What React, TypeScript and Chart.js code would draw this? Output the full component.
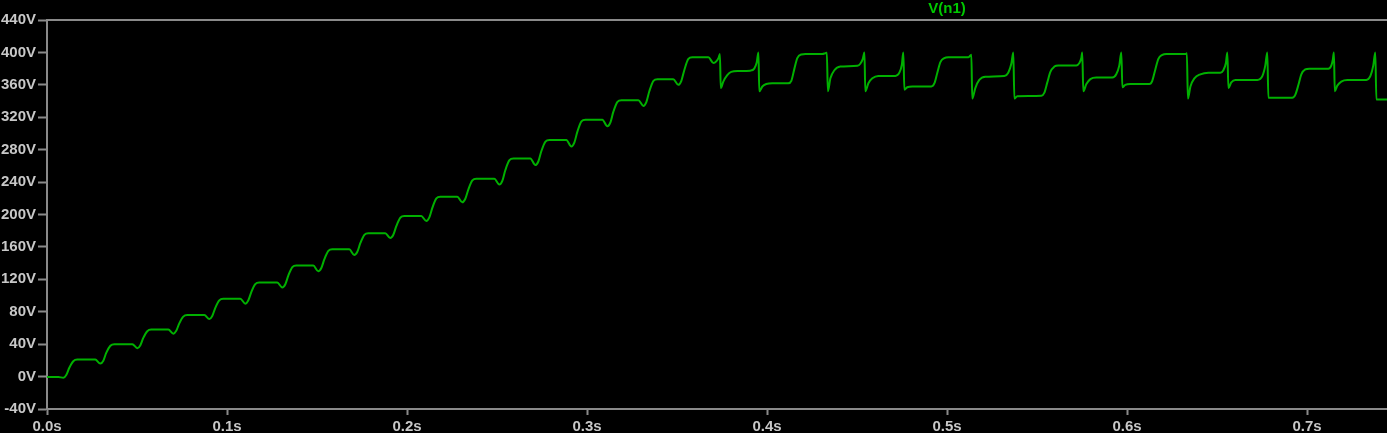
import React, { useEffect, useRef } from "react";
import { Chart, registerables } from "chart.js";

Chart.register(...registerables);

// ---- data ----
const traceName = "V(n1)";
const windowEndSec = 1.0; // LTspice window spans 0..1 s; title is centred on it
const xMin = 0;
const xMax = 0.7444;
const yMin = -40;
const yMax = 440;
const yStep = 40;
const xStep = 0.1;

// charging staircase (seconds, volts)
const rampTime = [
  0, 0.0063, 0.0091, 0.0107, 0.0124, 0.0146, 0.0168,
  0.0268, 0.0296, 0.0313, 0.0329, 0.0352, 0.0374,
  0.0474, 0.0502, 0.0518, 0.0535, 0.0557, 0.0579,
  0.0674, 0.0702, 0.0718, 0.0735, 0.0757, 0.0779,
  0.0874, 0.0902, 0.0918, 0.0935, 0.0957, 0.0979,
  0.1074, 0.1102, 0.1118, 0.1135, 0.1157, 0.1179,
  0.1279, 0.1307, 0.1324, 0.1341, 0.1363, 0.1385,
  0.1479, 0.1507, 0.1524, 0.1541, 0.1563, 0.1585,
  0.1679, 0.1707, 0.1724, 0.1741, 0.1763, 0.1785,
  0.1879, 0.1907, 0.1924, 0.1941, 0.1963, 0.1985,
  0.2079, 0.2107, 0.2124, 0.2141, 0.2163, 0.2185,
  0.2279, 0.2307, 0.2324, 0.2341, 0.2363, 0.2385,
  0.2485, 0.2513, 0.253, 0.2546, 0.2569, 0.2591,
  0.2685, 0.2713, 0.273, 0.2746, 0.2769, 0.2791,
  0.2885, 0.2913, 0.293, 0.2946, 0.2969, 0.2991,
  0.3085, 0.3113, 0.313, 0.3146, 0.3169, 0.3191,
  0.3285, 0.3313, 0.333, 0.3346, 0.3369, 0.3391,
  0.3479, 0.3507, 0.3524, 0.3541, 0.3563, 0.3585,
];
const rampVolt = [
  -0.5, -0.5, -1.5, 1.9, 10.9, 19, 21,
  21, 16, 19.6, 29.2, 38, 40,
  40, 35, 38.5, 47.7, 56, 58,
  58, 53, 56.5, 65.7, 74, 76,
  76, 71, 74.8, 84.8, 94, 96,
  96, 90, 93.9, 104.3, 114, 116,
  116, 110, 114, 124.9, 135, 137,
  137, 130, 134, 144.9, 155, 157,
  157, 150, 154, 164.9, 175, 177,
  177, 171, 175, 185.9, 196, 198,
  198, 192, 196.5, 208.5, 220, 222,
  222, 215, 219.4, 231, 242, 244,
  244, 237, 241.8, 254.6, 267, 269,
  269, 261, 265.7, 278, 290, 292,
  292, 284, 289, 302, 315, 317,
  317, 309, 313.8, 326.6, 339, 341,
  341, 334, 339, 352, 365, 367,
  367, 360, 365, 378.7, 392, 394,
];

// steady-state region with switching spikes (seconds, volts)
const steadyTime = [
  0.3674, 0.3702, 0.3718, 0.3732, 0.3738, 0.3743, 0.3757, 0.3779, 0.3801, 0.384,
  0.3907, 0.3929, 0.3943, 0.3952, 0.3957, 0.3974, 0.3996, 0.4029,
  0.4118, 0.4135, 0.4152, 0.4168, 0.419, 0.4213,
  0.4307, 0.4324, 0.4332, 0.4338, 0.4352, 0.4374, 0.4407,
  0.4502, 0.4518, 0.4532, 0.4541, 0.4546, 0.4563, 0.4585, 0.4618,
  0.4713, 0.4735, 0.4749, 0.4757, 0.4763, 0.4779, 0.4807,
  0.4913, 0.493, 0.4946, 0.4963, 0.4985, 0.5007,
  0.5118, 0.5129, 0.5135, 0.514, 0.5157, 0.5179, 0.5213,
  0.5318, 0.534, 0.5357, 0.5368, 0.5374, 0.539,
  0.5524, 0.554, 0.5557, 0.5574, 0.5596, 0.5618,
  0.5718, 0.5735, 0.5746, 0.5751, 0.5757, 0.5774, 0.5796, 0.5829,
  0.5918, 0.594, 0.5957, 0.5968, 0.5974, 0.599, 0.6018,
  0.6124, 0.614, 0.6157, 0.6174, 0.6196, 0.6218,
  0.6327, 0.6332, 0.6338, 0.6352, 0.6374, 0.6407, 0.6452,
  0.6518, 0.6535, 0.6549, 0.6557, 0.6563, 0.6579, 0.6602,
  0.6724, 0.6752, 0.6768, 0.6779, 0.6785,
  0.6918, 0.6935, 0.6952, 0.6968, 0.699, 0.7013,
  0.7118, 0.7135, 0.7143, 0.7149, 0.7154, 0.7168, 0.719, 0.7224,
  0.7329, 0.7352, 0.7368, 0.7379, 0.7385, 0.75,
];
const steadyVolt = [
  394, 387, 389, 394, 398, 356, 364, 372, 376, 377,
  377.5, 380, 388, 400, 352, 358, 361, 362,
  362, 365, 380, 393, 397.5, 398,
  398, 399, 399.5, 352, 368, 378, 382.5,
  383.5, 386, 392, 400, 352, 362, 368, 371,
  371, 375, 385, 400, 354, 357, 358,
  358, 362, 375, 388, 393, 394,
  394, 396, 397, 343, 356, 366, 370,
  371, 375, 386, 400, 343, 346,
  346.5, 350, 363, 376, 382.5, 384,
  384, 387, 393, 400, 352, 361, 367, 369,
  369, 373, 384, 400, 357, 360, 361,
  361, 365, 379, 392, 397, 398,
  398, 399, 343, 358, 368, 373, 375,
  375, 378, 387, 400, 356, 363, 366,
  366, 371, 384, 400, 344,
  344, 348, 360, 373, 379, 380,
  380, 384, 391, 400, 352, 359, 364, 366,
  366, 371, 384, 400, 342, 342,
];

// ---- styling ----
const BG = "#000000";
const AXIS_COLOR = "#8a8a8a";
const LABEL_COLOR = "#c8c8c8";
const TRACE_COLOR = "#00b000";
const TITLE_COLOR = "#00c800";
const FONT_FAMILY = "'Liberation Sans', Arial, sans-serif";

const ltspiceFrame = {
  id: "ltspiceFrame",
  afterDraw(chart: any) {
    const { ctx, chartArea, scales } = chart;
    ctx.save();
    ctx.strokeStyle = AXIS_COLOR;
    ctx.lineWidth = 2;
    ctx.beginPath();
    ctx.moveTo(chartArea.left - 1, chartArea.top);
    ctx.lineTo(chartArea.right, chartArea.top);
    ctx.stroke();
    ctx.font = `bold 15px ${FONT_FAMILY}`;
    ctx.fillStyle = TITLE_COLOR;
    ctx.textAlign = "center";
    ctx.textBaseline = "middle";
    ctx.fillText(traceName, scales.x.getPixelForValue(windowEndSec / 2), 9);
    ctx.restore();
  },
};

export default function App() {
  const canvasRef = useRef<HTMLCanvasElement | null>(null);

  useEffect(() => {
    if (!canvasRef.current) return;
    const points = [
      ...rampTime.map((t, i) => ({ x: t, y: rampVolt[i] })),
      ...steadyTime.map((t, i) => ({ x: t, y: steadyVolt[i] })),
    ];
    const chart = new Chart(canvasRef.current, {
      type: "line",
      data: {
        datasets: [
          {
            label: traceName,
            data: points,
            borderColor: TRACE_COLOR,
            borderWidth: 2,
            pointRadius: 0,
            fill: false,
            cubicInterpolationMode: "monotone",
          },
        ],
      },
      options: {
        animation: false,
        responsive: true,
        maintainAspectRatio: false,
        parsing: false as any,
        layout: { padding: { top: 20, left: 0, right: 0, bottom: 0 } },
        plugins: {
          legend: { display: false },
          tooltip: { enabled: false },
          title: { display: false },
        },
        scales: {
          x: {
            type: "linear",
            min: xMin,
            max: xMax,
            afterFit: (s: any) => {
              s.height = 24;
            },
            grid: {
              display: true,
              drawOnChartArea: false,
              drawTicks: true,
              tickLength: 6,
              tickColor: AXIS_COLOR,
              tickWidth: 2,
            },
            border: { display: true, color: AXIS_COLOR, width: 2 },
            ticks: {
              stepSize: xStep,
              includeBounds: false,
              autoSkip: false,
              maxRotation: 0,
              padding: 3,
              color: LABEL_COLOR,
              font: { family: FONT_FAMILY, size: 15, weight: "bold" },
              callback: (v: any) => Number(v).toFixed(1) + "s",
            },
          },
          y: {
            type: "linear",
            min: yMin,
            max: yMax,
            afterFit: (s: any) => {
              s.width = 47;
            },
            grid: {
              display: true,
              drawOnChartArea: false,
              drawTicks: true,
              tickLength: 9,
              tickColor: AXIS_COLOR,
              tickWidth: 2,
            },
            border: { display: true, color: AXIS_COLOR, width: 2 },
            ticks: {
              stepSize: yStep,
              autoSkip: false,
              padding: 2,
              color: LABEL_COLOR,
              font: { family: FONT_FAMILY, size: 15, weight: "bold" },
              callback: (v: any) => Math.round(Number(v)) + "V",
            },
          },
        },
      },
      plugins: [ltspiceFrame],
    } as any);
    return () => chart.destroy();
  }, []);

  return (
    <div
      style={{
        position: "fixed",
        left: 0,
        top: 0,
        width: 1387,
        height: 433,
        background: BG,
      }}
    >
      <canvas ref={canvasRef} />
    </div>
  );
}
